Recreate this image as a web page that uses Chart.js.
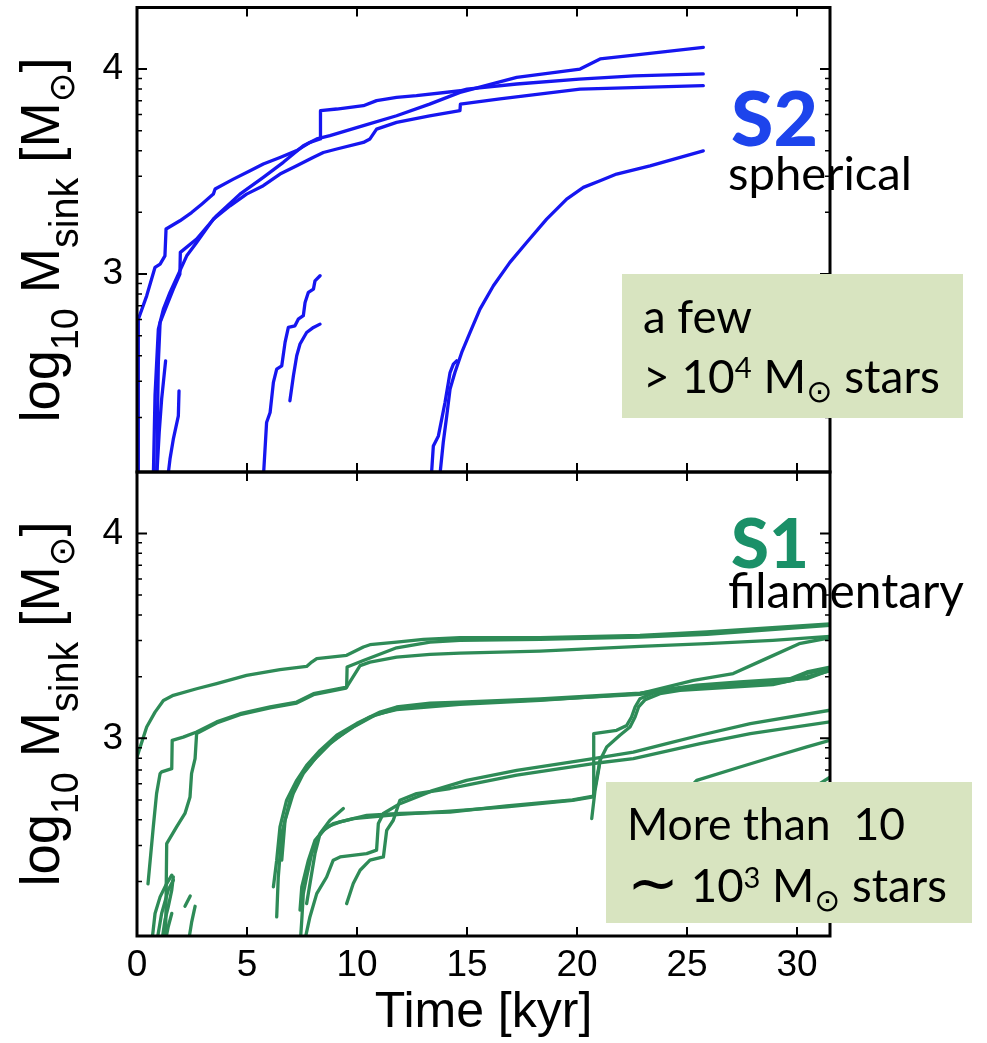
<!DOCTYPE html>
<html>
<head>
<meta charset="utf-8">
<script src="https://cdn.jsdelivr.net/npm/chart.js@4.4.1/dist/chart.umd.min.js"></script>
<style>
  html, body { margin: 0; padding: 0; background: #fff; }
  body { width: 987px; height: 1043px; position: relative; overflow: hidden; }
  canvas { position: absolute; left: 0; }
  #topChart { top: 0; }
  #bottomChart { top: 440px; }
</style>
</head>
<body>
<canvas id="topChart" width="987" height="480"></canvas>
<canvas id="bottomChart" width="987" height="603"></canvas>
<script>
// axis ranges and tick values
const T_MIN = 0, T_MAX = 31.5;
const LOGM_MIN = 2.035, LOGM_MAX = 4.30;
const X_TICKS = [0, 5, 10, 15, 20, 25, 30];
const Y_LABELS = [3, 4];

// S2 (spherical) sinks: [time kyr, log10 M]
const s2A = [[0.05,2.0],[0.06,2.78],[0.44,2.894],[0.82,3.033],[1.05,3.049],[1.27,3.089],[1.32,3.22],[1.95,3.26],[2.48,3.30],[2.94,3.341],[3.47,3.39],[3.55,3.415],[4.38,3.463],[5.14,3.504],[5.74,3.537],[6.5,3.569],[7.26,3.602],[7.86,3.642],[8.32,3.659],[8.34,3.797],[9.08,3.805],[10.29,3.821],[10.89,3.846],[11.8,3.862],[12.7,3.87],[14.7,3.894],[15.0,3.902],[17.26,3.927],[20.1,3.951],[22.6,3.967],[25.74,3.976]];
const s2B = [[0.74,2.0],[0.82,2.41],[0.97,2.732],[1.2,2.829],[1.5,2.911],[1.88,3.0],[2.26,3.089],[2.71,3.154],[3.47,3.268],[4.23,3.333],[4.98,3.39],[5.74,3.431],[6.5,3.488],[7.26,3.528],[8.0,3.569],[8.47,3.593],[9.08,3.61],[10.29,3.642],[10.59,3.659],[10.89,3.707],[11.8,3.74],[13.3,3.772],[14.68,3.797],[14.7,3.829],[16.5,3.854],[20.14,3.902],[25.74,3.919]];
const s2C = [[0.89,2.0],[0.97,2.569],[1.05,2.764],[1.35,2.846],[1.65,2.927],[1.95,3.0],[1.97,3.106],[2.71,3.171],[3.62,3.285],[4.68,3.39],[5.74,3.472],[6.65,3.545],[7.56,3.626],[8.17,3.659],[8.77,3.675],[10.29,3.724],[11.8,3.772],[13.3,3.829],[14.68,3.886],[17.26,3.959],[20.14,4.0],[21.05,4.049],[22.6,4.068],[25.74,4.106]];
const s2D = [[0.89,2.0],[1.01,2.229],[1.12,2.39],[1.2,2.473],[1.3,2.577]];
const s2E = [[1.39,2.0],[1.5,2.098],[1.65,2.195],[1.88,2.309],[1.91,2.431]];
const s2F = [[5.74,2.0],[5.89,2.276],[6.05,2.325],[6.2,2.472],[6.35,2.537],[6.58,2.553],[6.73,2.667],[6.88,2.74],[7.18,2.748],[7.33,2.78],[7.56,2.797],[7.64,2.862],[7.79,2.911],[8.02,2.927],[8.09,2.967],[8.32,2.992]];
const s2G = [[6.95,2.382],[7.11,2.504],[7.26,2.602],[7.41,2.659],[7.71,2.715],[8.02,2.74],[8.32,2.756]];
const s2H = [[13.75,2.0],[13.92,2.179],[14.08,2.309],[14.23,2.439],[14.45,2.52],[14.76,2.618],[15.14,2.716],[15.59,2.829],[16.2,2.943],[16.95,3.057],[17.71,3.154],[18.62,3.268],[19.53,3.366],[20.29,3.423],[21.05,3.455],[21.8,3.488],[23.32,3.528],[25.74,3.601]];
const s2I = [[13.37,2.0],[13.47,2.162],[13.7,2.211],[14.0,2.374],[14.23,2.52],[14.38,2.561],[14.53,2.577]];

// S1 (filamentary) sinks: [time kyr, log10 M]
const s1A = [[-0.1,2.88],[0,2.909],[0.44,3.055],[0.82,3.128],[1.2,3.185],[1.65,3.21],[2.71,3.242],[3.62,3.267],[4.98,3.307],[6.5,3.335],[7.71,3.351],[7.94,3.372],[8.17,3.389],[9.53,3.405],[10.29,3.446],[10.59,3.457],[11.8,3.47],[13.02,3.483],[14.68,3.491],[18.32,3.491],[22.86,3.502],[25.9,3.519],[31.5,3.559]];
const s1B = [[0.5,2.29],[0.74,2.567],[0.89,2.73],[1.05,2.828],[1.12,2.836],[1.58,2.852],[1.6,2.99],[2.1,3.006],[2.71,3.031],[3.62,3.08],[4.68,3.12],[6.05,3.153],[7.26,3.177],[8.02,3.218],[8.77,3.234],[9.53,3.25],[9.55,3.348],[10.29,3.38],[11.8,3.442],[13.32,3.47],[14.68,3.478],[18.32,3.483],[22.86,3.494],[25.9,3.508],[31.5,3.551]];
const s1C = [[1.3,2.0],[1.35,2.486],[1.8,2.568],[2.18,2.633],[2.41,2.714],[2.48,2.828],[2.64,2.901],[2.71,3.023],[3.62,3.075],[4.68,3.115],[6.05,3.148],[7.26,3.172],[8.02,3.213],[8.77,3.229],[9.5,3.245],[10.14,3.355],[10.59,3.372],[11.8,3.396],[13.32,3.41],[14.68,3.416],[18.32,3.426],[22.86,3.449],[25.9,3.462],[28.9,3.478],[31.5,3.498]];
const s1D = [[6.2,2.275],[6.35,2.405],[6.5,2.568],[6.8,2.698],[7.26,2.795],[7.71,2.868],[8.32,2.941],[9.08,3.015],[9.98,3.072],[11.05,3.128],[11.8,3.153],[13.32,3.172],[14.68,3.177],[18.32,3.193],[22.86,3.221],[25.44,3.259],[27.4,3.275],[29.68,3.291],[30.45,3.324],[31.5,3.348]];
const s1E = [[6.35,2.128],[6.42,2.32],[6.58,2.535],[6.95,2.698],[7.41,2.812],[8.02,2.893],[8.77,2.974],[9.68,3.048],[10.59,3.104],[11.8,3.145],[13.32,3.166],[14.68,3.172],[18.32,3.188],[22.86,3.215],[25.44,3.25],[27.4,3.267],[30.45,3.291],[31.5,3.332]];
const s1F = [[6.58,2.405],[6.73,2.6],[7.1,2.73],[7.56,2.828],[8.17,2.91],[8.92,2.99],[9.83,3.055],[10.89,3.117],[11.8,3.14],[14.68,3.166],[18.32,3.185],[22.86,3.218],[25.3,3.283],[27.1,3.316],[28.6,3.389],[30.1,3.462],[31.5,3.491]];
const s1G = [[7.42,2.0],[7.49,2.112],[7.56,2.242],[7.71,2.323],[7.94,2.437],[8.24,2.519],[8.62,2.567],[9.23,2.592],[10.44,2.624],[11.95,2.633],[14.23,2.64],[16.8,2.67],[19.8,2.70],[20.74,2.718],[20.76,3.023],[21.8,3.039],[22.26,3.063],[22.48,3.104],[22.64,3.153],[22.86,3.193],[23.47,3.221],[24.38,3.237],[28.9,3.267],[29.8,3.283],[30.45,3.317],[31.5,3.341]];
const s1H = [[7.41,2.161],[7.49,2.275],[7.79,2.405],[8.09,2.502],[8.47,2.551],[8.92,2.584],[9.83,2.608],[11.95,2.629],[14.23,2.645],[16.8,2.665],[19.8,2.697],[20.74,2.714],[21.05,2.893],[21.35,2.958],[21.95,3.015],[22.41,3.055],[22.64,3.104],[22.8,3.153],[23.1,3.189],[23.77,3.218],[24.68,3.234],[28.9,3.262],[30.45,3.3],[31.5,3.33]];
const s1I = [[20.67,2.608],[20.82,2.746],[20.98,2.844],[21.05,2.893]];
const s1J = [[7.71,2.193],[8.09,2.437],[8.32,2.535],[8.77,2.6],[9.38,2.657]];
const s1K = [[7.6,2.0],[7.86,2.128],[8.17,2.242],[8.62,2.323],[8.92,2.405],[9.23,2.421],[10.44,2.437],[10.89,2.454],[10.97,2.584],[11.2,2.633],[11.95,2.681],[13.47,2.746],[14.98,2.795],[17.26,2.844],[20.74,2.901],[22.56,2.933],[24.08,2.974],[25.6,3.015],[27.88,3.072],[31.5,3.137]];
const s1L = [[9.53,2.193],[9.83,2.291],[10.14,2.356],[10.59,2.405],[11.2,2.421],[11.35,2.551],[11.65,2.6],[11.95,2.698],[12.71,2.73],[14.23,2.755],[14.98,2.771],[17.26,2.82],[20.74,2.877],[22.56,2.901],[25.6,2.974],[27.88,3.023],[31.5,3.08]];
const s1M = [[24.8,2.72],[25.44,2.795],[27.41,2.86],[28.9,2.909],[30.45,2.958],[31.5,2.99]];
const s1N = [[30.6,2.74],[31.05,2.78],[31.5,2.81]];
const s1O = [[0.67,2.0],[0.82,2.145],[1.05,2.226],[1.35,2.291],[1.58,2.332]];
const s1P = [[0.89,2.0],[1.12,2.145],[1.42,2.259],[1.65,2.307]];
const s1Q = [[1.12,2.0],[1.27,2.112],[1.42,2.177],[1.58,2.259],[1.65,2.324]];
const s1R = [[1.27,2.0],[1.42,2.08],[1.58,2.145]];
const s1S = [[2.18,2.18],[2.42,2.23]];
const s1T = [[2.33,2.0],[2.48,2.10],[2.64,2.18]];

const S2_SINKS = [s2A, s2B, s2C, s2D, s2E, s2F, s2G, s2H, s2I];
const S1_SINKS = [s1A, s1B, s1C, s1D, s1E, s1F, s1G, s1H, s1I, s1J, s1K, s1L, s1M, s1N, s1O, s1P, s1Q, s1R, s1S, s1T];

const BLUE = '#1616f0';
const GREEN = '#2e8b57';
const BOX_FILL = '#d8e4c0';
const SUN = '\u2299';

Chart.defaults.font.family = '"Liberation Sans", Arial, sans-serif';
Chart.defaults.color = '#000';

// minor ticks at log10(k * 10^d)
const minorTicks = [];
for (const d of [2, 3]) {
    for (let k = 2; k <= 9; k++) {
        const v = Math.log10(k * Math.pow(10, d));
        if (v > LOGM_MIN && v < LOGM_MAX) minorTicks.push(v);
    }
}

// inward ticks on all four sides plus the black frame
const frameTicks = {
    id: 'frameTicks',
    afterDatasetsDraw(chart) {
        const { ctx, chartArea: a, scales: { x, y } } = chart;
        ctx.save();
        ctx.strokeStyle = '#000';
        ctx.lineWidth = 2;
        ctx.beginPath();
        X_TICKS.forEach(t => {
            const px = x.getPixelForValue(t);
            ctx.moveTo(px, a.top); ctx.lineTo(px, a.top + 9);
            ctx.moveTo(px, a.bottom); ctx.lineTo(px, a.bottom - 9);
        });
        Y_LABELS.forEach(v => {
            const py = y.getPixelForValue(v);
            ctx.moveTo(a.left, py); ctx.lineTo(a.left + 10, py);
            ctx.moveTo(a.right, py); ctx.lineTo(a.right - 10, py);
        });
        ctx.stroke();
        ctx.lineWidth = 1.5;
        ctx.beginPath();
        minorTicks.forEach(v => {
            const py = y.getPixelForValue(v);
            ctx.moveTo(a.left, py); ctx.lineTo(a.left + 5, py);
            ctx.moveTo(a.right, py); ctx.lineTo(a.right - 5, py);
        });
        ctx.stroke();
        ctx.lineWidth = 3;
        ctx.strokeRect(a.left, a.top, a.right - a.left, a.bottom - a.top);
        ctx.restore();
    }
};

// runs: [text, size, dy]; scaled uniformly so the whole line is `width` wide
function drawRuns(ctx, runs, x, y, width, family, weight) {
    const fam = family || 'Lato, "DejaVu Sans", sans-serif';
    const w = weight || 'normal';
    let natural = 0;
    runs.forEach(r => { ctx.font = `${w} ${r[1]}px ${fam}`; natural += ctx.measureText(r[0]).width; });
    const k = width ? width / natural : 1;
    let xx = x;
    ctx.textBaseline = 'alphabetic';
    ctx.textAlign = 'left';
    runs.forEach(r => {
        ctx.font = `${w} ${r[1] * k}px ${fam}`;
        ctx.fillText(r[0], xx, y + r[2] * k);
        xx += ctx.measureText(r[0]).width;
    });
}

function drawYTitle(ctx, cx, cy, length) {
    const runs = [['log', 55, 0], ['10', 38, 19], [' M', 55, 0], ['sink', 40, 19], [' [M', 55, 0], [SUN, 36, 15], [']', 55, 0]];
    const fam = '"Liberation Sans", "DejaVu Sans", sans-serif';
    let natural = 0;
    runs.forEach(r => { ctx.font = `${r[1]}px ${fam}`; natural += ctx.measureText(r[0]).width; });
    ctx.save();
    ctx.translate(cx, cy);
    ctx.rotate(-Math.PI / 2);
    ctx.scale(length / natural, 1);
    ctx.fillStyle = '#000';
    ctx.textBaseline = 'alphabetic';
    let xx = -natural / 2;
    runs.forEach(r => {
        ctx.font = `${r[1]}px ${fam}`;
        ctx.fillText(r[0], xx, r[2]);
        xx += ctx.measureText(r[0]).width;
    });
    ctx.restore();
}

const topNotes = {
    id: 'topNotes',
    afterDraw(chart) {
        const ctx = chart.ctx;
        ctx.save();
        drawYTitle(ctx, 59, 240, 365);
        ctx.fillStyle = '#1d44ec';
        drawRuns(ctx, [['S2', 72, 0]], 731, 146, 87, 'Lato, sans-serif', '900');
        ctx.fillStyle = '#000';
        drawRuns(ctx, [['spherical', 42, 0]], 728, 190, 184);
        ctx.fillStyle = BOX_FILL;
        ctx.fillRect(622, 274, 341, 144);
        ctx.fillStyle = '#000';
        drawRuns(ctx, [['a few', 44, 0]], 643, 333, 109);
        drawRuns(ctx, [['> 10', 44, 0], ['4', 28, -14], [' M', 44, 0], [SUN, 30, 9], [' stars', 44, 0]], 643, 393, 297);
        ctx.restore();
    }
};

const bottomNotes = {
    id: 'bottomNotes',
    afterDraw(chart) {
        const ctx = chart.ctx;
        ctx.save();
        drawYTitle(ctx, 59, 264, 365);
        ctx.fillStyle = '#1a9068';
        drawRuns(ctx, [['S1', 72, 0]], 731, 128, 78, 'Lato, sans-serif', '900');
        ctx.fillStyle = '#000';
        drawRuns(ctx, [['filamentary', 42, 0]], 728, 168, 236);
        ctx.fillStyle = BOX_FILL;
        ctx.fillRect(606, 342, 366, 141);
        ctx.fillStyle = '#000';
        drawRuns(ctx, [['More than  10', 44, 0]], 627, 400, 278);
        drawRuns(ctx, [['\u223C', 60, 2], [' 10', 44, 0], ['3', 28, -14], [' M', 44, 0], [SUN, 30, 9], [' stars', 44, 0]], 627, 462, 320);
        ctx.restore();
    }
};

function toDatasets(sinks, color, width) {
    return sinks.map((s, i) => ({
        label: 'sink ' + (i + 1),
        data: s.map(p => ({ x: p[0], y: p[1] })),
        showLine: true,
        borderColor: color,
        backgroundColor: color,
        borderWidth: width,
        pointRadius: 0,
        tension: 0,
        fill: false,
        borderJoinStyle: 'round',
        borderCapStyle: 'round'
    }));
}

function yScale() {
    return {
        type: 'linear',
        min: LOGM_MIN,
        max: LOGM_MAX,
        afterBuildTicks: s => { s.ticks = Y_LABELS.map(v => ({ value: v })); },
        afterFit: s => { s.width = 137; s.paddingTop = 0; s.paddingBottom = 0; },
        ticks: { font: { size: 37 }, padding: 14, color: '#000', callback: v => String(v) },
        grid: { display: false, drawTicks: false },
        border: { display: false }
    };
}

new Chart(document.getElementById('topChart'), {
    type: 'scatter',
    data: { datasets: toDatasets(S2_SINKS, BLUE, 3.3) },
    options: {
        responsive: false,
        animation: false,
        events: [],
        layout: { padding: { left: 0, right: 157, top: 7.5, bottom: 8 } },
        plugins: { legend: { display: false }, tooltip: { enabled: false } },
        scales: {
            x: { type: 'linear', min: T_MIN, max: T_MAX, display: false },
            y: yScale()
        }
    },
    plugins: [frameTicks, topNotes]
});

new Chart(document.getElementById('bottomChart'), {
    type: 'scatter',
    data: { datasets: toDatasets(S1_SINKS, GREEN, 3.3) },
    options: {
        responsive: false,
        animation: false,
        events: [],
        layout: { padding: { left: 0, right: 157, top: 32, bottom: 0 } },
        plugins: { legend: { display: false }, tooltip: { enabled: false } },
        scales: {
            x: {
                type: 'linear',
                min: T_MIN,
                max: T_MAX,
                afterBuildTicks: s => { s.ticks = X_TICKS.map(v => ({ value: v })); },
                afterFit: s => { s.height = 107; },
                ticks: { font: { size: 37 }, padding: 8, color: '#000', maxRotation: 0 },
                grid: { display: false, drawTicks: false },
                border: { display: false },
                title: { display: true, text: 'Time [kyr]', font: { size: 50 }, padding: 0, color: '#000' }
            },
            y: yScale()
        }
    },
    plugins: [frameTicks, bottomNotes]
});
</script>
</body>
</html>
